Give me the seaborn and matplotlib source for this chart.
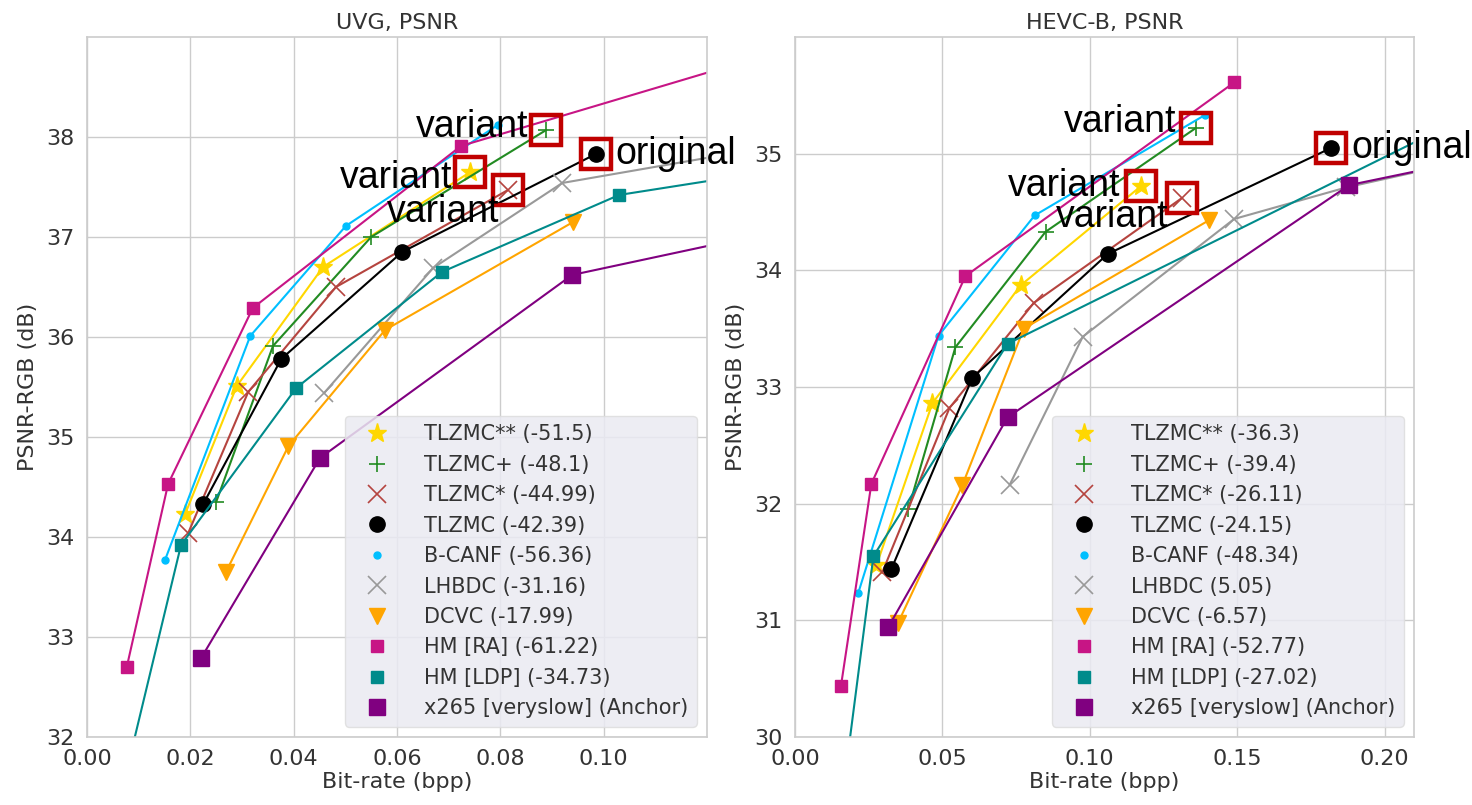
import matplotlib
matplotlib.use('Agg')
import matplotlib.pyplot as plt
from matplotlib.lines import Line2D
import pandas as pd
import seaborn as sns

# ---- UVG, PSNR (bpp / dB) ----
uvg_tlzmc_ss_bpp = [0.0190, 0.0290, 0.0457, 0.0742]
uvg_tlzmc_ss_psnr = [34.23, 35.51, 36.70, 37.65]
uvg_tlzmc_plus_bpp = [0.0250, 0.0360, 0.0550, 0.0889]
uvg_tlzmc_plus_psnr = [34.35, 35.91, 37.00, 38.07]
uvg_tlzmc_s_bpp = [0.0196, 0.0312, 0.0482, 0.0815]
uvg_tlzmc_s_psnr = [34.04, 35.45, 36.50, 37.47]
uvg_tlzmc_bpp = [0.0225, 0.0376, 0.0610, 0.0985]
uvg_tlzmc_psnr = [34.33, 35.78, 36.85, 37.83]
uvg_bcanf_bpp = [0.0151, 0.0316, 0.0501, 0.0795]
uvg_bcanf_psnr = [33.77, 36.01, 37.11, 38.12]
uvg_lhbdc_bpp = [0.0459, 0.0670, 0.0920, 0.1400]
uvg_lhbdc_psnr = [35.44, 36.69, 37.54, 37.97]
uvg_dcvc_bpp = [0.0269, 0.0390, 0.0577, 0.0941]
uvg_dcvc_psnr = [33.65, 34.91, 36.07, 37.15]
uvg_hmra_bpp = [0.0077, 0.0157, 0.0321, 0.0724, 0.1400]
uvg_hmra_psnr = [32.70, 34.53, 36.29, 37.91, 38.95]
uvg_hmldp_bpp = [0.0046, 0.0182, 0.0405, 0.0687, 0.1030, 0.1400]
uvg_hmldp_psnr = [31.00, 33.92, 35.49, 36.65, 37.42, 37.72]
uvg_x265_bpp = [0.0221, 0.0451, 0.0939, 0.1400]
uvg_x265_psnr = [32.79, 34.79, 36.62, 37.13]

# ---- HEVC-B, PSNR ----
hevc_tlzmc_ss_bpp = [0.0276, 0.0466, 0.0765, 0.1173]
hevc_tlzmc_ss_psnr = [31.47, 32.86, 33.87, 34.72]
hevc_tlzmc_plus_bpp = [0.0384, 0.0544, 0.0850, 0.1360]
hevc_tlzmc_plus_psnr = [31.95, 33.34, 34.33, 35.22]
hevc_tlzmc_s_bpp = [0.0296, 0.0524, 0.0810, 0.1313]
hevc_tlzmc_s_psnr = [31.41, 32.82, 33.72, 34.62]
hevc_tlzmc_bpp = [0.0327, 0.0602, 0.1061, 0.1820]
hevc_tlzmc_psnr = [31.44, 33.08, 34.14, 35.05]
hevc_bcanf_bpp = [0.0214, 0.0487, 0.0813, 0.1390]
hevc_bcanf_psnr = [31.23, 33.44, 34.47, 35.33]
hevc_lhbdc_bpp = [0.0728, 0.0976, 0.1490, 0.1870, 0.2300]
hevc_lhbdc_psnr = [32.16, 33.43, 34.44, 34.71, 34.95]
hevc_dcvc_bpp = [0.0350, 0.0568, 0.0776, 0.1405]
hevc_dcvc_psnr = [30.98, 32.16, 33.50, 34.43]
hevc_hmra_bpp = [0.0156, 0.0259, 0.0578, 0.1490]
hevc_hmra_psnr = [30.44, 32.17, 33.95, 35.61]
hevc_hmldp_bpp = [0.0136, 0.0266, 0.0721, 0.2200]
hevc_hmldp_psnr = [29.00, 31.55, 33.37, 35.22]
hevc_x265_bpp = [0.0316, 0.0721, 0.1880, 0.2300]
hevc_x265_psnr = [30.94, 32.74, 34.73, 34.95]

methods = ['TLZMC**', 'TLZMC+', 'TLZMC*', 'TLZMC', 'B-CANF', 'LHBDC',
	'DCVC', 'HM [RA]', 'HM [LDP]', 'x265 [veryslow]']
uvg_bd = ['-51.5', '-48.1', '-44.99', '-42.39', '-56.36', '-31.16',
	'-17.99', '-61.22', '-34.73', 'Anchor']
hevc_bd = ['-36.3', '-39.4', '-26.11', '-24.15', '-48.34', '5.05',
	'-6.57', '-52.77', '-27.02', 'Anchor']

# marker / colour for each method (same order as methods)
styles = [
	dict(color='#FFD700', marker='*', ms=14, mew=1),
	dict(color='#228B22', marker='+', ms=11, mew=1.2),
	dict(color='#B5443F', marker='x', ms=13, mew=1.2),
	dict(color='black', marker='o', ms=11, mew=1),
	dict(color='#00BFFF', marker='o', ms=5, mew=1),
	dict(color='#999999', marker='x', ms=13, mew=1.2),
	dict(color='#FFA500', marker='v', ms=12, mew=1),
	dict(color='#C71585', marker='s', ms=8, mew=1),
	dict(color='#008B8B', marker='s', ms=8, mew=1),
	dict(color='#800080', marker='s', ms=11, mew=1),
]

uvg = [(uvg_tlzmc_ss_bpp, uvg_tlzmc_ss_psnr), (uvg_tlzmc_plus_bpp, uvg_tlzmc_plus_psnr),
	(uvg_tlzmc_s_bpp, uvg_tlzmc_s_psnr), (uvg_tlzmc_bpp, uvg_tlzmc_psnr),
	(uvg_bcanf_bpp, uvg_bcanf_psnr), (uvg_lhbdc_bpp, uvg_lhbdc_psnr),
	(uvg_dcvc_bpp, uvg_dcvc_psnr), (uvg_hmra_bpp, uvg_hmra_psnr),
	(uvg_hmldp_bpp, uvg_hmldp_psnr), (uvg_x265_bpp, uvg_x265_psnr)]
hevc = [(hevc_tlzmc_ss_bpp, hevc_tlzmc_ss_psnr), (hevc_tlzmc_plus_bpp, hevc_tlzmc_plus_psnr),
	(hevc_tlzmc_s_bpp, hevc_tlzmc_s_psnr), (hevc_tlzmc_bpp, hevc_tlzmc_psnr),
	(hevc_bcanf_bpp, hevc_bcanf_psnr), (hevc_lhbdc_bpp, hevc_lhbdc_psnr),
	(hevc_dcvc_bpp, hevc_dcvc_psnr), (hevc_hmra_bpp, hevc_hmra_psnr),
	(hevc_hmldp_bpp, hevc_hmldp_psnr), (hevc_x265_bpp, hevc_x265_psnr)]

sns.set_theme(style='whitegrid')
plt.rcParams.update({
	'font.family': ['DejaVu Sans'],
	'axes.edgecolor': '#CCCCCC',
	'grid.color': '#CCCCCC',
	'axes.linewidth': 1.2,
	'text.color': '.2',
	'axes.labelcolor': '.2',
	'xtick.color': '.2',
	'ytick.color': '.2',
})

BOX_RED = '#C00000'


def plot_panel(ax, data, bd, title, xlim, ylim, xticks, yticks, notes):
	# one line per method, drawn through seaborn
	for i, (bpp, psnr) in enumerate(data):
		df = pd.DataFrame({'bpp': bpp, 'psnr': psnr})
		st = styles[i]
		sns.lineplot(data=df, x='bpp', y='psnr', ax=ax, sort=False,
			color=st['color'], marker=st['marker'], markersize=st['ms'],
			markeredgewidth=st['mew'], markeredgecolor=st['color'],
			linewidth=1.5, legend=False)

	# red boxes + labels round the TLZMC variants
	for idx, point, text, dx, dy, ha in notes:
		bpp, psnr = data[idx]
		x, y = bpp[point], psnr[point]
		ax.plot([x], [y], marker='s', ms=21, mfc='none', mec=BOX_RED,
			mew=3.2, linestyle='none', zorder=5)
		ax.annotate(text, (x, y), xytext=(dx, dy), textcoords='offset points',
			ha=ha, va='center', fontsize=27, color='black',
			family=['Liberation Sans', 'DejaVu Sans'], zorder=6)

	handles = []
	for i, name in enumerate(methods):
		st = styles[i]
		handles.append(Line2D([], [], linestyle='none', color=st['color'],
			marker=st['marker'], markersize=st['ms'], markeredgewidth=st['mew'],
			markeredgecolor=st['color']))
	labels = [f'{m} ({b})' for m, b in zip(methods, bd)]
	leg = ax.legend(handles, labels, loc='lower right', fontsize=15,
		labelspacing=0.5, facecolor='#EAEAF2', edgecolor='#DDDDDD',
		framealpha=0.85, handlelength=2.3, handletextpad=1.1)
	leg.get_frame().set_linewidth(1.0)

	ax.set_xlim(*xlim)
	ax.set_ylim(*ylim)
	ax.set_xticks(xticks)
	ax.set_yticks(yticks)
	ax.set_xlabel('Bit-rate (bpp)', fontsize=16, labelpad=2)
	ax.set_ylabel('PSNR-RGB (dB)', fontsize=16, labelpad=6)
	ax.set_title(title, fontsize=16, pad=6)
	ax.tick_params(labelsize=16, pad=3)
	ax.xaxis.set_major_formatter(matplotlib.ticker.FormatStrFormatter('%.2f'))


fig = plt.figure(figsize=(14.72, 8.05), dpi=100)
ax1 = fig.add_axes([0.0591, 0.0845, 0.4212, 0.8696])
ax2 = fig.add_axes([0.5401, 0.0845, 0.4205, 0.8696])

plot_panel(ax1, uvg, uvg_bd, 'UVG, PSNR', (0, 0.12), (32, 39),
	[0, 0.02, 0.04, 0.06, 0.08, 0.10], [32, 33, 34, 35, 36, 37, 38],
	[(1, 3, 'variant', -13, 2, 'right'),
	 (0, 3, 'variant', -13, -4, 'right'),
	 (2, 3, 'variant', -6, -16, 'right'),
	 (3, 3, 'original', 14, 0, 'left')])
plot_panel(ax2, hevc, hevc_bd, 'HEVC-B, PSNR', (0, 0.21), (30, 36),
	[0, 0.05, 0.10, 0.15, 0.20], [30, 31, 32, 33, 34, 35],
	[(1, 3, 'variant', -14, 4, 'right'),
	 (0, 3, 'variant', -15, 0, 'right'),
	 (2, 3, 'variant', -10, -14, 'right'),
	 (3, 3, 'original', 14, 0, 'left')])

fig.savefig('out.png', dpi=100)
